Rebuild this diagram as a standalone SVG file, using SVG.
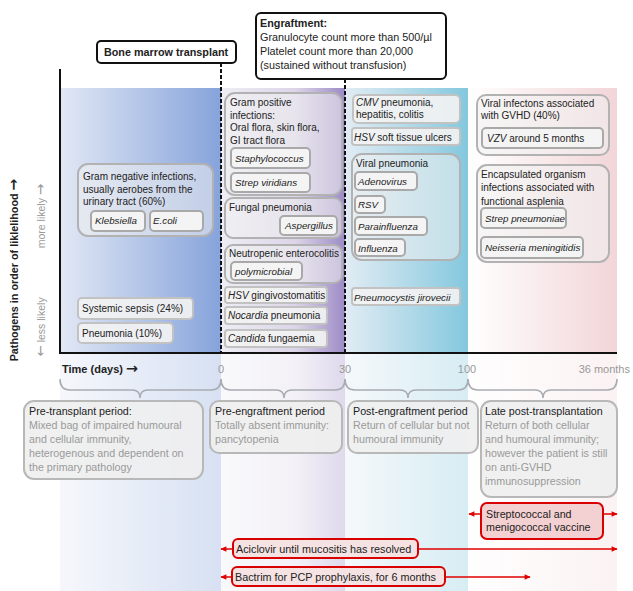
<svg xmlns="http://www.w3.org/2000/svg" width="633" height="591" viewBox="0 0 633 591">
<defs>
<linearGradient id="g1" x1="0" x2="1" y1="0" y2="0"><stop offset="0" stop-color="#e2e8f5"/><stop offset="1" stop-color="#86a3db"/></linearGradient>
<linearGradient id="g2" x1="0" x2="1" y1="0" y2="0"><stop offset="0" stop-color="#eeedf4"/><stop offset="0.6" stop-color="#dcd5e8"/><stop offset="1" stop-color="#9d8bc6"/></linearGradient>
<linearGradient id="g3" x1="0" x2="1" y1="0" y2="0"><stop offset="0" stop-color="#e2ecf4"/><stop offset="1" stop-color="#84c8de"/></linearGradient>
<linearGradient id="g4" x1="0" x2="1" y1="0" y2="0"><stop offset="0" stop-color="#ffffff"/><stop offset="1" stop-color="#f2d5d8"/></linearGradient>
<marker id="arr" viewBox="0 0 10 10" refX="9" refY="5" markerUnits="userSpaceOnUse" markerWidth="7" markerHeight="6" orient="auto"><path d="M0,0.5 L10,5 L0,9.5 z" fill="#e00000"/></marker>
</defs>
<style>
text{font-family:"Liberation Sans",Arial,sans-serif;fill:#222}
.n{font-size:10px}
.n.i{font-size:9.8px}
.p{font-size:10.7px}
.pg{fill:#9a9a9a}
.ar{font-family:"DejaVu Sans",sans-serif;font-size:1.3em}
.grp{fill:#f0f0f0;fill-opacity:.55;stroke:#b2b2b2;stroke-width:2}
.box{fill:#f2f2f2;fill-opacity:.92;stroke:#c2c2c2;stroke-width:2}
.in{fill:#f4f4f4;stroke:#a9a9a9;stroke-width:2}
.per{fill:#efefef;fill-opacity:.92;stroke:#b8b8b8;stroke-width:2}
.red{fill:#f5e2e3;stroke:#d90000;stroke-width:2}
.rl{stroke:#e00000;stroke-width:1.5;fill:none}
.dash{stroke:#111;stroke-width:2;stroke-dasharray:4 2;fill:none}
.brace{fill:none;stroke:#a9acb3;stroke-width:1.6}
.i{font-style:italic}
.b{font-weight:bold}
.tick{font-size:11px;fill:#999}
</style>

<g id="bands">
<rect x="60" y="88" width="161" height="265" fill="url(#g1)"/>
<rect x="221" y="88" width="124" height="265" fill="url(#g2)"/>
<rect x="345" y="88" width="123" height="265" fill="url(#g3)"/>
<rect x="468" y="88" width="149" height="265" fill="url(#g4)"/>
<g opacity="0.32">
<rect x="60" y="353" width="161" height="238" fill="url(#g1)"/>
<rect x="221" y="353" width="124" height="238" fill="url(#g2)"/>
<rect x="345" y="353" width="123" height="238" fill="url(#g3)"/>
<rect x="468" y="353" width="149" height="238" fill="url(#g4)"/>
</g>
</g>

<g id="axes">
<line x1="60" y1="69" x2="60" y2="354" stroke="#111" stroke-width="2"/>
<line x1="59" y1="353" x2="617" y2="353" stroke="#111" stroke-width="2"/>
<line class="dash" x1="221" y1="63" x2="221" y2="353"/>
<line class="dash" x1="345" y1="79" x2="345" y2="353"/>
<text x="18" y="270" class="b" font-size="10.8" text-anchor="middle" transform="rotate(-90 18 270)">Pathogens in order of liklelihood <tspan class="ar">→</tspan></text>
<text x="45" y="216" font-size="10.5" style="fill:#999" text-anchor="middle" transform="rotate(-90 45 216)">more likely <tspan class="ar" style="fill:#999">→</tspan></text>
<text x="45" y="327" font-size="10.5" style="fill:#999" text-anchor="middle" transform="rotate(-90 45 327)"><tspan class="ar" style="fill:#999">←</tspan> less likely</text>
<text x="62" y="373" class="b" font-size="11">Time (days) <tspan class="ar">→</tspan></text>
<text x="221" y="373" class="tick" text-anchor="middle">0</text>
<text x="345" y="373" class="tick" text-anchor="middle">30</text>
<text x="467" y="373" class="tick" text-anchor="middle">100</text>
<text x="630" y="373" class="tick" text-anchor="end">36 months</text>
</g>

<g id="bmt">
<rect x="97" y="41" width="139" height="22" rx="4" fill="#fff" stroke="#111" stroke-width="2"/>
<text x="166" y="56" class="b" font-size="10.8" text-anchor="middle">Bone marrow transplant</text>
</g>
<g id="engraftment">
<rect x="256" y="13" width="190" height="66" rx="5" fill="#fff" stroke="#111" stroke-width="2"/>
<text x="260" y="27" font-size="10.8"><tspan class="b">Engraftment:</tspan><tspan x="260" dy="14">Granulocyte count more than 500/µl</tspan><tspan x="260" dy="14">Platelet count more than 20,000</tspan><tspan x="260" dy="14">(sustained without transfusion)</tspan></text>
</g>

<g id="gram-negative">
<rect class="grp" x="78" y="164" width="135" height="72" rx="10"/>
<text class="n" x="83" y="180">Gram negative infections,<tspan x="83" dy="12.7">usually aerobes from the</tspan><tspan x="83" dy="12.7">urinary tract (60%)</tspan></text>
<rect class="in" x="91" y="211" width="54" height="20" rx="4"/>
<text class="n i" x="95" y="224">Klebsiella</text>
<rect class="in" x="150" y="211" width="53" height="20" rx="4"/>
<text class="n i" x="153" y="224">E.coli</text>
</g>
<g id="sepsis">
<rect class="box" x="78" y="298" width="115" height="21" rx="4"/>
<text class="n" x="82" y="312">Systemic sepsis (24%)</text>
</g>
<g id="pneumonia">
<rect class="box" x="78" y="323" width="95" height="20" rx="4"/>
<text class="n" x="82" y="337">Pneumonia (10%)</text>
</g>

<g id="gram-positive">
<rect class="grp" x="225" y="93" width="117" height="102" rx="10"/>
<text class="n" x="230" y="106">Gram positive<tspan x="230" dy="12.5">infections:</tspan><tspan x="230" dy="12.5">Oral flora, skin flora,</tspan><tspan x="230" dy="12.5">GI tract flora</tspan></text>
<rect class="in" x="231" y="148" width="79" height="20" rx="4"/>
<text class="n i" x="235" y="162">Staphylococcus</text>
<rect class="in" x="231" y="173" width="79" height="19" rx="4"/>
<text class="n i" x="235" y="186">Strep viridians</text>
</g>
<g id="fungal">
<rect class="grp" x="225" y="198" width="117" height="40" rx="8"/>
<text class="n" x="229" y="211">Fungal pneumonia</text>
<rect class="in" x="280" y="216" width="57" height="19" rx="4"/>
<text class="n i" x="285" y="229">Aspergillus</text>
</g>
<g id="neutropenic">
<rect class="grp" x="225" y="245" width="117" height="38" rx="8"/>
<text class="n" x="229" y="257">Neutropenic enterocolitis</text>
<rect class="in" x="231" y="262" width="71" height="18" rx="4"/>
<text class="n i" x="235" y="275">polymicrobial</text>
</g>
<g id="hsv-ging">
<rect class="box" x="225" y="287" width="102" height="16" rx="3"/>
<text class="n" x="228" y="299"><tspan class="i">HSV</tspan> gingivostomatitis</text>
</g>
<g id="nocardia">
<rect class="box" x="225" y="307" width="102" height="17" rx="3"/>
<text class="n" x="228" y="319"><tspan class="i">Nocardia</tspan> pneumonia</text>
</g>
<g id="candida">
<rect class="box" x="225" y="330" width="102" height="17" rx="3"/>
<text class="n" x="228" y="342"><tspan class="i">Candida</tspan> fungaemia</text>
</g>

<g id="cmv">
<rect class="box" x="353" y="95" width="107" height="28" rx="5"/>
<text class="n" x="356" y="106"><tspan class="i">CMV</tspan> pneumonia,<tspan x="356" dy="12">hepatitis, colitis</tspan></text>
</g>
<g id="hsv-ulcers">
<rect class="box" x="352" y="128" width="108" height="17" rx="3"/>
<text class="n" x="354" y="141"><tspan class="i">HSV</tspan> soft tissue ulcers</text>
</g>
<g id="viral-pneumonia">
<rect class="grp" x="352" y="154" width="108" height="106" rx="10"/>
<text class="n" x="356" y="167">Viral pneumonia</text>
<rect class="in" x="355" y="172" width="62" height="18" rx="4"/>
<text class="n i" x="358" y="185">Adenovirus</text>
<rect class="in" x="355" y="196" width="30" height="17" rx="4"/>
<text class="n i" x="358" y="208">RSV</text>
<rect class="in" x="355" y="217" width="72" height="18" rx="4"/>
<text class="n i" x="358" y="230">Parainfluenza</text>
<rect class="in" x="355" y="239" width="50" height="17" rx="4"/>
<text class="n i" x="358" y="252">Influenza</text>
</g>
<g id="pneumocystis">
<rect class="box" x="352" y="288" width="108" height="17" rx="3"/>
<text class="n i" x="354" y="301">Pneumocystis jirovecii</text>
</g>

<g id="viral-gvhd">
<rect class="grp" x="477" y="95" width="132" height="60" rx="9"/>
<text class="n" x="481" y="107">Viral infectons associated<tspan x="481" dy="12">with GVHD (40%)</tspan></text>
<rect class="in" x="482" y="128" width="121" height="20" rx="4"/>
<text class="n" x="487" y="142"><tspan class="i">VZV</tspan> around 5 months</text>
</g>
<g id="encapsulated">
<rect class="grp" x="477" y="165" width="132" height="97" rx="10"/>
<text class="n" x="481" y="178">Encapsulated organism<tspan x="481" dy="13.3">infections associated with</tspan><tspan x="481" dy="13.3">functional asplenia</tspan></text>
<rect class="in" x="481" y="208" width="85" height="20" rx="4"/>
<text class="n i" x="485" y="222">Strep pneumoniae</text>
<rect class="in" x="481" y="237" width="102" height="21" rx="4"/>
<text class="n i" x="485" y="251">Neisseria meningitidis</text>
</g>

<g id="braces">
<path class="brace" d="M60,379 Q60,390 70,390 L132,390 Q140,390 140,398 Q140,390 148,390 L211,390 Q221,390 221,379"/>
<path class="brace" d="M221,379 Q221,390 231,390 L276,390 Q284,390 284,398 Q284,390 292,390 L335,390 Q345,390 345,379"/>
<path class="brace" d="M345,379 Q345,390 355,390 L400,390 Q408,390 408,398 Q408,390 416,390 L458,390 Q468,390 468,379"/>
<path class="brace" d="M468,379 Q468,390 478,390 L535,390 Q543,390 543,398 Q543,390 551,390 L607,390 Q617,390 617,379"/>
</g>

<g id="pre-transplant">
<rect class="per" x="24" y="401" width="179" height="78" rx="10"/>
<text class="p" x="29" y="415">Pre-transplant period:<tspan class="pg" x="29" dy="14">Mixed bag of impaired humoural</tspan><tspan class="pg" x="29" dy="14">and cellular immunity,</tspan><tspan class="pg" x="29" dy="14">heterogenous and dependent on</tspan><tspan class="pg" x="29" dy="14">the primary pathology</tspan></text>
</g>
<g id="pre-engraftment">
<rect class="per" x="210" y="401" width="132" height="52" rx="9"/>
<text class="p" x="215" y="415">Pre-engraftment period<tspan class="pg" x="215" dy="14">Totally absent immunity:</tspan><tspan class="pg" x="215" dy="14">pancytopenia</tspan></text>
</g>
<g id="post-engraftment">
<rect class="per" x="348" y="401" width="130" height="52" rx="9"/>
<text class="p" x="353" y="415">Post-engraftment period<tspan class="pg" x="353" dy="14">Return of cellular but not</tspan><tspan class="pg" x="353" dy="14">humoural immunity</tspan></text>
</g>
<g id="late-post">
<rect class="per" x="481" y="401" width="136" height="96" rx="10"/>
<text class="p" x="485" y="415">Late post-transplantation<tspan class="pg" x="485" dy="14">Return of both cellular</tspan><tspan class="pg" x="485" dy="14">and humoural immunity;</tspan><tspan class="pg" x="485" dy="14">however the patient is still</tspan><tspan class="pg" x="485" dy="14">on anti-GVHD</tspan><tspan class="pg" x="485" dy="14">immunosuppression</tspan></text>
</g>

<g id="connectors">
<line class="rl" x1="481" y1="514" x2="469" y2="514" marker-end="url(#arr)"/>
<line class="rl" x1="603" y1="514" x2="617" y2="514" marker-end="url(#arr)"/>
<line class="rl" x1="233" y1="549" x2="221" y2="549" marker-end="url(#arr)"/>
<line class="rl" x1="418" y1="549" x2="617" y2="549" marker-end="url(#arr)"/>
<line class="rl" x1="232" y1="577" x2="221" y2="577" marker-end="url(#arr)"/>
<line class="rl" x1="445" y1="577" x2="530" y2="577" marker-end="url(#arr)"/>
</g>

<g id="vaccine">
<rect class="red" x="481" y="503" width="122" height="36" rx="6" style="fill:#f3d0d1"/>
<text class="p" x="486" y="518" font-size="10.8">Streptococcal and<tspan x="486" dy="13">menigococcal vaccine</tspan></text>
</g>
<g id="aciclovir">
<rect class="red" x="233" y="539" width="185" height="19" rx="5"/>
<text x="236" y="553" font-size="10.8">Aciclovir until mucositis has resolved</text>
</g>
<g id="bactrim">
<rect class="red" x="232" y="567" width="213" height="19" rx="5"/>
<text x="235" y="581" font-size="10.8">Bactrim for PCP prophylaxis, for 6 months</text>
</g>
</svg>
